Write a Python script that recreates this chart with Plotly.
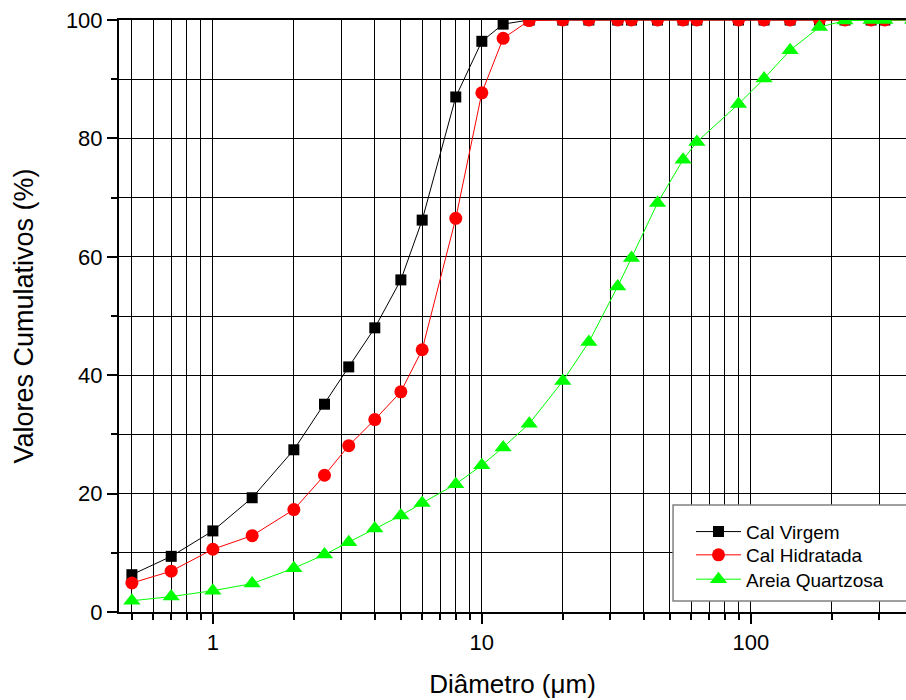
import plotly.graph_objects as go

# Particle size classes (µm)
diametro = [0.5, 0.7, 1, 1.4, 2, 2.6, 3.2, 4, 5, 6, 8, 10, 12, 15, 20, 25, 32, 36,
            45, 56, 63, 90, 112, 140, 180, 224, 280, 315, 400]

# Cumulative passing (%)
cal_virgem = [6.3, 9.4, 13.7, 19.3, 27.4, 35.1, 41.4, 48.0, 56.1, 66.2, 87.0, 96.4,
              99.3, 100, 100, 100, 100, 100, 100, 100, 100, 100, 100, 100, 100, 100,
              100, 100, 100]
cal_hidratada = [4.9, 6.9, 10.6, 12.9, 17.3, 23.1, 28.1, 32.5, 37.2, 44.3, 66.5, 87.7,
                 96.9, 99.9, 100, 100, 100, 100, 100, 100, 100, 100, 100, 100, 100,
                 100, 100, 100, 100]
areia_quartzosa = [1.9, 2.6, 3.6, 4.8, 7.4, 9.7, 11.8, 14.1, 16.3, 18.4, 21.6, 24.8,
                   27.8, 31.8, 39.0, 45.6, 55.0, 59.8, 69.1, 76.4, 79.4, 85.8, 90.1,
                   94.9, 98.8, 99.9, 100, 100, 100]

major_x = [1, 10, 100]
minor_x = [0.5, 0.6, 0.7, 0.8, 0.9, 2, 3, 4, 5, 6, 7, 8, 9,
           20, 30, 40, 50, 60, 70, 80, 90, 200, 300]

series = [
    ("Cal Virgem", cal_virgem, "#000000", "square", 11),
    ("Cal Hidratada", cal_hidratada, "#ff0000", "circle", 13),
    ("Areia Quartzosa", areia_quartzosa, "#00ff00", "triangle-up", 15),
]

font_family = "Liberation Sans, Arial, sans-serif"

# one legend per entry so the rows sit at fixed heights inside the framed box
legend_x = 0.7268
legend_rows = [0.1356, 0.0963, 0.0552]
legend_names = ["legend", "legend2", "legend3"]

fig = go.Figure()
for (name, vals, color, symbol, size), lg in zip(series, legend_names):
    fig.add_trace(go.Scatter(
        x=diametro, y=vals, name=name, mode="lines+markers",
        line=dict(color=color, width=1),
        marker=dict(symbol=symbol, size=size, color=color, line=dict(width=0)),
        legend=lg,
    ))

legend_layout = {}
for lg, ypos in zip(legend_names, legend_rows):
    legend_layout[lg] = dict(
        x=legend_x, y=ypos, xanchor="left", yanchor="middle",
        bgcolor="rgba(0,0,0,0)", borderwidth=0,
        font=dict(size=19, family=font_family, color="#000"),
        itemwidth=45,
    )

fig.update_layout(
    width=906, height=700,
    margin=dict(l=119, r=0, t=20, b=88),
    plot_bgcolor="white", paper_bgcolor="white",
    font=dict(family=font_family, color="#000", size=22),
    showlegend=True,
    **legend_layout,
    shapes=[dict(
        type="rect", xref="paper", yref="paper",
        x0=0.704, x1=1.02, y0=0.0186, y1=0.1807,
        fillcolor="white", line=dict(color="#808080", width=1.5),
        layer="above",
    )],
)

fig.update_xaxes(
    type="log", range=[-0.349, 2.577],
    tickvals=major_x, ticktext=[str(v) for v in major_x],
    ticks="outside", ticklen=10, tickwidth=2, tickcolor="#000",
    showline=True, linecolor="#000", linewidth=2, mirror=True,
    showgrid=True, gridcolor="#000", gridwidth=1,
    minor=dict(tickvals=minor_x, ticks="outside", ticklen=6, tickwidth=1.5,
               tickcolor="#000", showgrid=True, gridcolor="#000", gridwidth=1),
    tickfont=dict(size=22),
    title=dict(text="Diâmetro (μm)", font=dict(size=26), standoff=20),
    zeroline=False,
)

fig.update_yaxes(
    range=[0, 100], tick0=0, dtick=20,
    ticks="outside", ticklen=10, tickwidth=2, tickcolor="#000",
    showline=True, linecolor="#000", linewidth=2, mirror=False,
    showgrid=True, gridcolor="#000", gridwidth=1,
    minor=dict(dtick=10, ticks="outside", ticklen=6, tickwidth=1.5,
               tickcolor="#000", showgrid=True, gridcolor="#000", gridwidth=1),
    tickfont=dict(size=22),
    title=dict(text="Valores Cumulativos (%)", font=dict(size=27), standoff=24),
    zeroline=False,
)

fig.write_html("out.html")
